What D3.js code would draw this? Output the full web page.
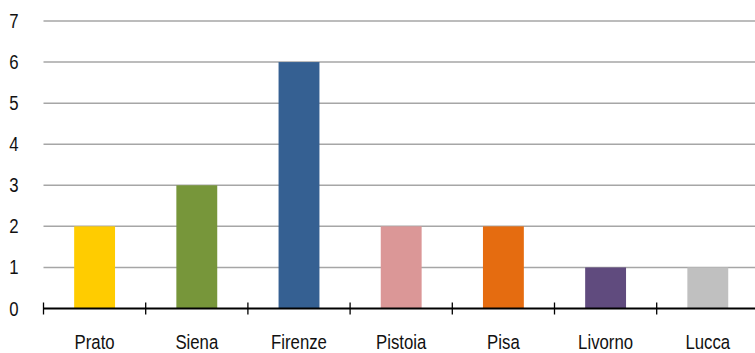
<!DOCTYPE html>
<html><head><meta charset="utf-8">
<script src="https://cdn.jsdelivr.net/npm/d3@7"></script>
<style>body{margin:0;background:#fff}svg{display:block}text{font-family:"Liberation Sans Narrow","Arial Narrow","Liberation Sans",sans-serif;fill:#111}</style>
</head><body><svg id="c" width="755" height="353"></svg>
<script>
const categories = ["Prato","Siena","Firenze","Pistoia","Pisa","Livorno","Lucca"];
const values = [2,3,6,2,2,1,1];
const colors = ["#FFCC00","#77963A","#356092","#DB9797","#E56C10","#604B7E","#C0C0C0"];
const yTicks = [0,1,2,3,4,5,6,7];

(function(){
const svg = d3.select("#c");
const mLeft = 43.5, mRight = 758.9, mTop = 21, mBottom = 308.5;
const sx = 0.86;
const x = d3.scaleBand().domain(categories).range([mLeft, mRight]).paddingInner(0.6).paddingOuter(0.3);
const y = d3.scaleLinear().domain([0,7]).range([mBottom, mTop]);

svg.append("g").selectAll("line").data(yTicks.filter(d=>d>0)).join("line")
  .attr("x1", mLeft).attr("x2", 755).attr("y1", d=>y(d)).attr("y2", d=>y(d))
  .attr("stroke", "#a6a6a6").attr("stroke-width", 1.5);

svg.append("g").selectAll("text").data(yTicks).join("text")
  .attr("transform", d=>`translate(18.5,${y(d)}) scale(${sx},1)`).attr("dy", "0.36em")
  .attr("text-anchor", "end").attr("font-size", 19.5).text(d=>d);

svg.append("g").selectAll("rect").data(categories).join("rect")
  .attr("x", d=>x(d)).attr("width", x.bandwidth())
  .attr("y", (d,i)=>y(values[i])).attr("height", (d,i)=>y(0)-y(values[i]))
  .attr("fill", (d,i)=>colors[i]);

svg.append("line").attr("x1", mLeft).attr("x2", 755).attr("y1", mBottom).attr("y2", mBottom)
  .attr("stroke", "#000").attr("stroke-width", 2);
const step = x.step();
const tickXs = d3.range(categories.length).map(i => mLeft + i*step);
svg.append("g").selectAll("line").data(tickXs).join("line")
  .attr("x1", d=>d).attr("x2", d=>d).attr("y1", mBottom-6).attr("y2", mBottom+6)
  .attr("stroke", "#000").attr("stroke-width", 1.3);

svg.append("g").selectAll("text").data(categories).join("text")
  .attr("transform", d=>`translate(${x(d)+x.bandwidth()/2},348.5) scale(${sx},1)`)
  .attr("text-anchor", "middle").attr("font-size", 19.5).text(d=>d);
})();
</script></body></html>
